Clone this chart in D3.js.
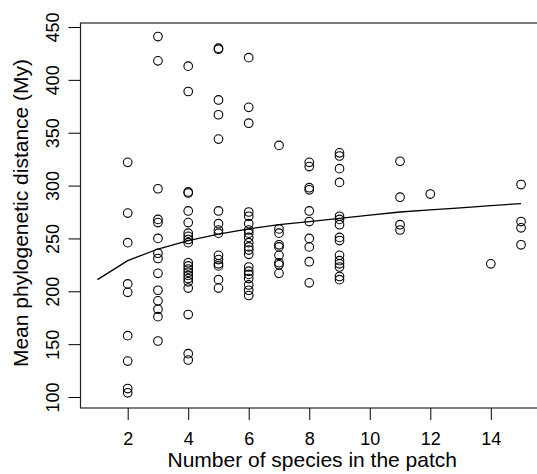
<!DOCTYPE html>
<html>
<head>
<meta charset="utf-8">
<script src="https://cdn.jsdelivr.net/npm/d3@7"></script>
<style>
  body { margin: 0; background: #fff; }
  svg { display: block; font-family: "Liberation Sans", Arial, Helvetica, sans-serif; }
</style>
</head>
<body>
<div id="chart"></div>
<script>
// species richness of each patch group (x) and the mean phylogenetic distances (My)
const richness = [2, 3, 4, 5, 6, 7, 8, 9, 11, 12, 14, 15]
const distances = [
    [322, 274, 246, 207, 199, 158, 134, 108, 104],
    [441, 418, 297, 268, 265, 250, 236, 231, 217, 201, 191, 183, 176, 153],
    [413, 389, 294, 293, 276, 265, 255, 252, 249, 246, 227, 224, 221, 218, 215, 212, 209, 203, 178, 141, 135],
    [430, 429, 381, 367, 344, 276, 264, 258, 255, 234, 230, 226, 224, 211, 203],
    [421, 374, 359, 275, 271, 264, 258, 255, 251, 246, 242, 239, 235, 223, 219, 216, 212, 206, 201, 196],
    [338, 259, 255, 244, 242, 234, 227, 225, 217],
    [322, 318, 298, 296, 276, 266, 250, 242, 228, 208],
    [331, 328, 316, 303, 271, 268, 263, 251, 248, 234, 229, 226, 223, 214, 211],
    [323, 289, 263, 258],
    [292],
    [226],
    [301, 266, 260, 244]
]

// fitted curve, read at each integer richness
const fitX = [1, 2, 3, 4, 5, 6, 7, 8, 9, 10, 11, 12, 13, 14, 15]
const fitY = [211, 229, 240, 248, 254, 259, 263, 266, 269, 272, 275, 277, 279, 281, 283]

const xTicks = [2, 4, 6, 8, 10, 12, 14]
const yTicks = [100, 150, 200, 250, 300, 350, 400, 450]

const width = 537, height = 474

const points = []
richness.forEach(function (r, i) {
    distances[i].forEach(function (v) { points.push({ n: r, d: v }) })
})

const x = d3.scaleLinear().domain([0.44, 15.56]).range([80.5, 538])
const y = d3.scaleLinear().domain([89.6, 453.8]).range([408, 23])

const svg = d3.select("#chart").append("svg")
    .attr("width", width)
    .attr("height", height)

// plot box (right edge falls just outside the picture)
svg.append("rect")
    .attr("x", x.range()[0])
    .attr("y", y.range()[1])
    .attr("width", x.range()[1] - x.range()[0])
    .attr("height", y.range()[0] - y.range()[1])
    .attr("fill", "none")
    .attr("stroke", "#222")
    .attr("stroke-width", 1.2)

const xAxis = svg.append("g")
    .attr("transform", "translate(0," + y.range()[0] + ")")
    .call(d3.axisBottom(x).tickValues(xTicks).tickSize(12).tickSizeOuter(0))
xAxis.select(".domain").remove()
xAxis.selectAll("line").attr("stroke", "#000")
xAxis.selectAll("text")
    .attr("y", 37)
    .attr("dy", 0)
    .attr("fill", "#000")
    .style("font-size", "18px")
    .style("font-family", null)

const yAxis = svg.append("g")
    .attr("transform", "translate(" + x.range()[0] + ",0)")
    .call(d3.axisLeft(y).tickValues(yTicks).tickSize(12).tickSizeOuter(0))
yAxis.select(".domain").remove()
yAxis.selectAll("line").attr("stroke", "#000")
yAxis.selectAll("text")
    .attr("x", 0)
    .attr("dy", 0)
    .attr("text-anchor", "middle")
    .attr("transform", "translate(-22,0) rotate(-90)")
    .attr("fill", "#000")
    .style("font-size", "18px")
    .style("font-family", null)

// axis titles
svg.append("text")
    .attr("x", (x.range()[0] + x.range()[1]) / 2 + 3)
    .attr("y", 467)
    .attr("text-anchor", "middle")
    .style("font-size", "21px")
    .text("Number of species in the patch")

svg.append("text")
    .attr("transform", "translate(28," + 213 + ") rotate(-90)")
    .attr("text-anchor", "middle")
    .style("font-size", "21px")
    .text("Mean phylogenetic distance (My)")

// points
svg.append("g")
    .selectAll("circle")
    .data(points)
    .enter()
    .append("circle")
    .attr("cx", function (d) { return x(d.n) })
    .attr("cy", function (d) { return y(d.d) })
    .attr("r", 4.3)
    .attr("fill", "none")
    .attr("stroke", "#000")
    .attr("stroke-width", 1.1)

// fitted curve
const line = d3.line()
    .x(function (d) { return x(d[0]) })
    .y(function (d) { return y(d[1]) })

svg.append("path")
    .datum(fitX.map(function (v, i) { return [v, fitY[i]] }))
    .attr("d", line)
    .attr("fill", "none")
    .attr("stroke", "#000")
    .attr("stroke-width", 1.3)
</script>
</body>
</html>
